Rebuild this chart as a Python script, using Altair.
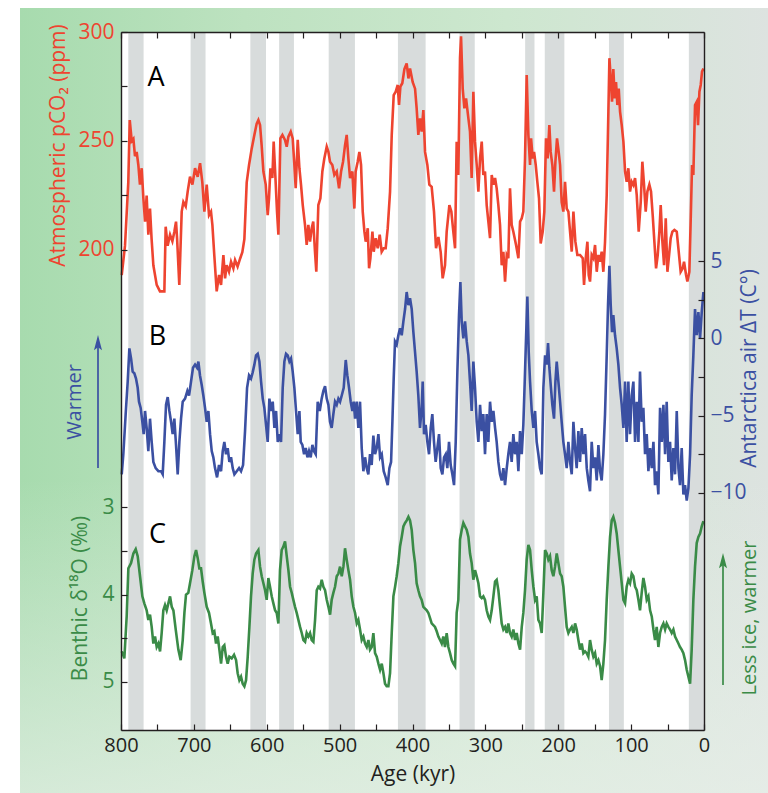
import altair as alt
import pandas as pd

# Plot area size in pixels (axes and labels live in the padding)
W, H = 583, 698

FONT = "Open Sans"
RED = "#ee4430"
BLUE = "#3b50a2"
GREEN = "#3a8b47"
FRAME = "#231f20"
BAND = "#d8dcdc"

# ---------------------------------------------------------------- data
AGE_LABELS = [800, 700, 600, 500, 400, 300, 200, 100, 0]
AGE_TICKS = list(range(0, 801, 50))

# interglacial intervals (kyr before present): (older edge, younger edge)
INTERGLACIALS = [
    (790, 769), (704.5, 684), (622.5, 601), (583, 562.7), (515, 479),
    (420, 382), (335.5, 314.6), (245.4, 232.6), (218.5, 191.6),
    (130.4, 110), (20.8, 0),
]

# (age kyr, atmospheric CO2 ppm)
CO2 = [
    (799, 188.5), (794.5, 202), (790, 231), (788, 259.6), (785.3, 250), (783, 251),
    (780.8, 243), (778.5, 245), (776.2, 239), (774, 230), (771.6, 237.5), (769.3, 223.7),
    (767, 213), (764.8, 225), (762.5, 207), (760.2, 219), (758, 205), (755.6, 193),
    (751, 184), (746.5, 181), (740.5, 181), (738.7, 210.7), (736, 202), (732.7, 207),
    (729.5, 204), (726.8, 208.4), (724.5, 213), (723, 205), (720, 184), (716.7, 217.6),
    (714.4, 222), (711.2, 220), (708.5, 226.8), (705.3, 233.6), (702, 230), (698.4, 237.5),
    (694.8, 233.6), (691.5, 239.8), (688.4, 231), (685.6, 217.6), (682.4, 230), (679.2, 216),
    (676.5, 217.6), (674.6, 211.5), (672, 197.7), (668.7, 181), (665.5, 188.5), (662.7, 184),
    (659.5, 197.7), (657.2, 187), (655, 193), (651.8, 190), (649, 194.6), (645.8, 191.6),
    (643.5, 195.4), (640, 192.4), (636.6, 196), (633.5, 199), (630.7, 205), (627.5, 231),
    (624.3, 239), (620.6, 246.6), (617, 252.8), (613.8, 258), (611.5, 259.6), (609.2, 257.3),
    (607, 248), (604.6, 236), (601.4, 230), (598.7, 216), (596.9, 223.7), (595, 237.5),
    (592.3, 233), (590.5, 249.7), (588.2, 234), (585.9, 217.6), (584, 207), (581.3, 251.2),
    (578.5, 252.8), (575, 250.5), (572.6, 247.4), (570.3, 252), (567.1, 254.3), (564.4, 251.2),
    (562.1, 239), (560.3, 228.3), (557.5, 250.5), (555.2, 237.5), (553, 230), (550.6, 220.6),
    (547.5, 211.5), (545.2, 202.3), (542.9, 211.5), (540.6, 203.8), (538.3, 210), (536.2, 213),
    (533.8, 199.2), (532, 190), (529.2, 220.6), (526.4, 223.7), (523.7, 236), (521, 242),
    (517.7, 247.4), (515.4, 245), (513.2, 240.5), (510, 239), (507.2, 234.4), (504, 236),
    (500.8, 228.3), (498, 236), (495.3, 240.5), (492.6, 248), (490.3, 252.8), (488, 242),
    (485.7, 233), (482.5, 236), (479.8, 219), (478, 236), (475.2, 240.5), (472.9, 245),
    (470.6, 239), (468.3, 217.6), (466, 208.4), (464.2, 203.8), (461.4, 210), (459.6, 191.6),
    (457.8, 196.2), (455, 208.4), (453.2, 199.2), (450.5, 205.4), (447.7, 200.8), (445, 207),
    (442.3, 199.2), (439.5, 200.8), (436.8, 200.8), (434, 210), (430.8, 226.8), (428.5, 252.8),
    (425.8, 271), (423, 272.6), (420.3, 275.7), (418.5, 266.5), (416.6, 275), (414, 276.5),
    (411.1, 283), (408, 285.6), (405.6, 278.7),
    (403.4, 283.3), (399.7, 277), (396.5, 274), (394.3, 265), (392, 252.8), (389.7, 260.4),
    (387.4, 254.3), (385.1, 264.2), (382.8, 245), (379.6, 239), (376.9, 230), (373.7, 229),
    (370.5, 217.6), (367.7, 200.8), (364.5, 206), (361.3, 199), (358.6, 187), (355.4, 193),
    (353.1, 208.4), (349.4, 220.6), (346.7, 217.6), (344, 208.4), (341.6, 200.8), (339.4, 249.7),
    (337.1, 234.4), (334.8, 288), (333.4, 298), (331.1, 274), (328.8, 265), (326.5, 269.5),
    (323.3, 260.4), (321.1, 254.3), (318.8, 233), (316.5, 272.6), (314.2, 249.7), (311.9, 239),
    (309.6, 226.8), (307.3, 242), (305, 249.7), (302.8, 234.4), (300.5, 236), (298.2, 220.6),
    (295.9, 213), (293.6, 205.4), (291.3, 234.4), (289, 230), (286.7, 233), (284.5, 228.3),
    (282.2, 220.6), (279.9, 211.5), (277.6, 193), (275.3, 199.2), (273, 185.5), (270.7, 197.7),
    (268.5, 196.2), (266.2, 228.3), (263.9, 211.5), (261.6, 208.4), (257.9, 202.3), (254.7, 196.2),
    (252.4, 213), (250.1, 214.5), (247.9, 217.6), (245.6, 242), (243.3, 280.3), (241, 252.8),
    (238.7, 239), (237.3, 251.2), (235.1, 242), (233.2, 245), (230.9, 239), (228.7, 231.3),
    (226.4, 223.7), (224.1, 203), (221.3, 208.4), (219.1, 217.6), (216.8, 251.2), (214.5, 242),
    (212.2, 257.3), (210.4, 245), (208.1, 239), (205.8, 226.8), (203.9, 240.5), (201.7, 251.2),
    (199.4, 245), (197.5, 239), (195.3, 222), (193, 217.6), (190.7, 231.3), (188.4, 219),
    (186.1, 217.6), (183.8, 208.4), (181.5, 199.2), (179.2, 217.6), (176.5, 203.8), (173.8, 197.7),
    (170.1, 197.7), (166.4, 196.2), (164.6, 184), (162.3, 196.2), (160, 203.8), (158.2, 188.5),
    (156.4, 185.5), (154.1, 197.7), (151.8, 196.2), (149.5, 202.3), (147.2, 190), (144.9, 197.7),
    (142.6, 194.6), (140.4, 199.2), (138.1, 190), (135.8, 203.8), (133.5, 225.2), (131.2, 263.5),
    (129.8, 288), (128, 278.7), (126.2, 268), (124.4, 283), (122.5, 269.5), (120.7, 277),
    (118.9, 266.5), (117, 274), (115.2, 263.5), (112.9, 257.3), (110.6, 249.7), (108.3, 236),
    (106.1, 231.3), (103.8, 237.5), (101.5, 226.8), (99.2, 231.3), (96.9, 229.8), (94.6, 233),
    (92.3, 225.2), (89.6, 208.4), (86.8, 222), (84.6, 240.5), (82.3, 230), (80, 217.6),
    (77.7, 226.8), (75, 230), (72.7, 226.8), (70.4, 216), (68.1, 203.8), (65.8, 191.6),
    (63.5, 197.7), (61.2, 208.4), (59.4, 220.6), (57.1, 203.8), (54.8, 193), (52.5, 214.5),
    (50.2, 190), (47.9, 197.7), (45.7, 205.4), (43.4, 208.4), (40.6, 209.2), (37.4, 208.4),
    (34.7, 199.2), (32, 190), (29.2, 191.6), (27.4, 194.6), (24.6, 188.5), (22.8, 185.5),
    (20.1, 190), (18.2, 214.5), (16.4, 239), (14.6, 234.4), (12.3, 266.5), (10, 268),
    (8.2, 257.3), (6.3, 272.6), (4.5, 275.7), (2.7, 281.8), (0.8, 283.3),
]

# (age kyr, Antarctic air temperature anomaly degC)
TEMP = [
    (799, -8.8), (796.8, -7.5), (793.6, -4.9), (790.8, -2.8), (788.5, -0.65), (786.2, -1.3),
    (784, -2.15), (781.7, -2.26), (779.4, -2.6), (777.1, -3.2), (775.3, -4.1), (773, -4.5),
    (770.7, -5.4), (768.9, -6.2), (767, -4.7), (764.8, -5.8), (762.5, -7.3), (760.2, -5.2),
    (757.9, -6.7), (755.6, -8), (752.4, -8.4), (748.7, -8.6), (745.1, -8.6), (742.8, -8.8),
    (740.5, -6.7), (738.2, -4.3), (735.9, -3.8), (733.6, -4.7), (731.3, -5.4), (729.1, -6.2),
    (726.8, -5.2), (724.5, -6.9), (722.2, -8.8), (719.9, -6.7), (717.6, -5.2), (715.3, -4.1),
    (712.1, -3.9), (708.9, -3.4), (706.6, -3.7), (703.9, -2.8), (701.2, -1.9), (698.4, -1.7),
    (695.7, -1.9), (693.8, -1.5), (691.6, -2.4), (689.3, -3.0), (687, -3.7), (684.7, -4.5),
    (682.4, -5.4), (680.1, -4.7), (677.8, -6.2), (675.5, -7.3), (673.3, -7.7), (671, -8.4),
    (668.2, -9.0), (665.5, -8.2), (662.7, -8.6), (660.4, -7.3), (658.2, -6.7), (655.9, -7.5),
    (653.6, -7.1), (651.3, -8.0), (649, -7.7), (646.7, -8.4), (644.4, -8.8), (641.2, -8.6),
    (638, -8.4), (635.3, -8.6), (632.5, -8.2), (629.8, -6.0), (627, -3.2), (624.3, -2.4),
    (621.6, -2.6), (619.3, -2.2), (617, -1.7), (614.7, -1.1), (612.4, -1.0), (610.1, -1.5),
    (607.8, -2.8), (605.5, -3.9), (603.3, -4.5), (601, -5.6), (598.7, -6.7), (596.4, -3.9),
    (594.1, -4.7), (591.8, -4.1), (589.5, -5.8), (587.2, -4.7), (584.9, -6.7), (582.7, -6.2),
    (580.4, -6.7), (578.1, -3.2), (575.8, -1.5), (573.5, -1.0), (571.2, -1.1), (568.9, -1.5),
    (566.7, -1.3), (564.4, -2.15), (562.1, -3.2), (559.8, -4.7), (557.5, -6.2), (555.2, -4.7),
    (553.4, -6.7), (551.1, -6.9), (548.8, -7.5), (546.5, -7.1), (544.2, -7.7), (542, -7.3),
    (539.7, -7.7), (537.4, -6.9), (535.1, -7.3), (532.8, -7.5), (530.1, -4.1), (527.3, -4.7),
    (524.6, -3.9), (522.3, -3.4), (520, -3.1), (517.7, -3.9), (515.4, -4.3), (513.2, -5.4),
    (510.9, -5.8), (508.6, -4.9), (506.3, -4.1), (504, -4.3), (501.7, -3.9), (499.4, -4.1),
    (497.1, -3.7), (494.4, -3.2), (491.6, -1.4), (489.4, -2.4), (487.1, -3.2), (484.8, -4.1),
    (482.5, -4.7), (480.7, -4.1), (478.8, -5.2), (476.6, -4.1), (474.3, -5.8), (472, -4.1),
    (469.7, -7.1), (467.4, -8.6), (465.1, -7.7), (462.8, -8.4), (460.6, -8.8), (458.3, -7.5),
    (456, -8.2), (453.7, -6.3), (451.4, -7.5), (449.1, -7.1), (446.8, -6.2), (444.5, -7.7),
    (442.2, -7.5), (439.5, -8.6), (436.8, -9.0), (434, -9.5), (431.7, -8.4), (429.4, -8.0),
    (427.6, -5.4), (425.8, -2.6), (424, -0.2), (421.7, -0.4), (419.4, 0.2), (417.1, 0.65),
    (414.8, 0.2), (412.5, 1.1), (410.2, 1.9), (408, 3.0), (405.6, 2.15),
    (403.4, 2.6), (401.1, 1.9), (398.8, 0.4), (396.5, -0.9), (394.3, -2.15), (392, -3.7),
    (389.7, -5.8), (387.4, -4.5), (386, -2.8), (384.2, -6.2), (381.9, -5.6), (379.6, -6.7),
    (377.3, -7.5), (375, -5.8), (372.8, -4.9), (370.5, -6.7), (368.2, -8.0), (365.9, -7.1),
    (363.6, -6.2), (361.3, -8.4), (359, -8.8), (356.7, -7.7), (354.4, -7.5), (352.2, -8.4),
    (349.9, -6.7), (347.6, -8.2), (345.3, -8.8), (343, -9.5), (340.7, -6.7), (338.4, -2.15),
    (336.2, 1.5), (334.3, 3.65), (332.5, 1.1), (330.2, 0.0), (327.9, 1.1), (325.6, -0.2),
    (323.3, -1.1), (321.1, -2.8), (318.8, -4.7), (316.5, -1.5), (314.2, -3.2), (311.9, -5.4),
    (309.6, -6.7), (307.3, -4.3), (305, -6.0), (302.8, -4.9), (300.5, -7.5), (298.2, -4.9),
    (295.9, -6.7), (293.6, -4.1), (291.3, -5.4), (289, -4.7), (286.7, -5.8), (284.5, -6.7),
    (282.2, -8.0), (279.9, -8.8), (277.6, -9.2), (275.3, -8.4), (273, -9.5), (270.7, -8.4),
    (268.5, -7.5), (266.2, -6.7), (263.9, -8.0), (261.6, -6.2), (259.3, -7.5), (257, -6.7),
    (254.7, -8.6), (252.4, -6.0), (250.1, -7.5), (247.9, -5.6), (246, -2.8), (244.2, 0.0),
    (242.4, 2.7), (240.5, -0.9), (238.7, -2.8), (236.4, -4.7), (234.1, -5.8), (231.8, -4.7),
    (229.6, -6.7), (227.3, -7.5), (225, -8.4), (222.7, -8.8), (220.4, -3.2), (218.1, -1.1),
    (215.8, -1.7), (214, -0.3), (212.2, -1.9), (210.4, -3.0), (208.1, -4.3), (205.8, -5.2),
    (203.9, -2.8), (202.1, -1.5), (199.8, -2.8), (197.5, -4.1), (195.3, -5.4), (193, -6.7),
    (190.7, -7.5), (188.4, -8.4), (186.1, -6.7), (183.8, -8.0), (181.5, -8.8), (179.2, -5.4),
    (176.9, -7.1), (174.7, -8.4), (172.4, -6.0), (170.1, -8.0), (167.8, -5.8), (165.5, -7.5),
    (163.2, -6.2), (160.9, -8.4), (158.7, -9.2), (156.4, -9.9), (154.1, -6.7), (151.8, -8.4),
    (149.5, -7.7), (147.2, -9.2), (144.9, -6.9), (142.6, -8.6), (140.4, -9.2), (138.1, -7.5),
    (135.8, -4.9), (133.5, -1.1), (131.7, 2.15), (129.8, 4.7), (128, 2.15), (126.2, 0.4),
    (124.4, 1.5), (122.1, 0.2), (119.8, -0.65), (117.5, -1.7), (115.2, -3.2), (112.9, -4.3),
    (110.6, -5.8), (108.3, -2.8), (106.1, -6.7), (103.8, -2.8), (101.5, -6.2), (99.2, -3.7),
    (96.9, -2.8), (94.6, -6.7), (92.3, -4.1), (90, -6.7), (87.8, -2.15), (85.5, -5.4),
    (83.2, -4.5), (80.9, -7.5), (78.6, -6.2), (76.3, -8.6), (74, -7.1), (71.7, -8.4),
    (69.4, -6.7), (67.2, -9.5), (64.9, -8.6), (62.6, -10.1), (60.3, -4.5), (58, -6.7),
    (55.7, -4.3), (53.4, -7.5), (51.2, -4.1), (48.9, -8.0), (46.6, -6.7), (44.3, -9.2),
    (42, -7.1), (39.7, -8.8), (37.4, -4.7), (35.1, -8.4), (32.9, -9.5), (30.6, -7.1),
    (28.3, -10.1), (26, -9.5), (23.7, -10.5), (21.4, -9.7), (19.1, -7.5), (16.9, -3.7),
    (14.6, -1.1), (12.3, 1.9), (10, 0.2), (7.7, 1.7), (5.4, 0.0), (3.1, 1.7), (0.8, 3.0),
]

# (age kyr, benthic d18O permil)
D18O = [
    (799, 4.65), (795.4, 4.73), (792.2, 4.25), (789.9, 3.70), (786.2, 3.64), (783, 3.53),
    (779.8, 3.48), (777.1, 3.56), (773.9, 3.79), (770.7, 4.02), (768, 4.10), (764.8, 4.18),
    (762.5, 4.29), (760.2, 4.23), (757.9, 4.37), (755.6, 4.56), (753.3, 4.48), (751, 4.60),
    (748.7, 4.56), (746.4, 4.65), (744.2, 4.44), (741.9, 4.18), (739.6, 4.12), (737.3, 4.18),
    (735, 4.10), (732.7, 4.02), (730.4, 4.14), (728.1, 4.18), (724.9, 4.40), (721.3, 4.63),
    (718.1, 4.75), (715.3, 4.52), (713, 4.21), (710.8, 4.00), (707.6, 3.98), (705.3, 3.87),
    (702.1, 3.72), (699.3, 3.56), (697, 3.49), (694.8, 3.58), (692.5, 3.70), (690.2, 3.70),
    (687.9, 3.85), (685.6, 3.98), (682.4, 4.14), (679.2, 4.21), (676.5, 4.33), (674.2, 4.44),
    (671.9, 4.42), (669.6, 4.56), (667.3, 4.48), (665, 4.63), (662.7, 4.79), (660.4, 4.60),
    (658.2, 4.58), (655.9, 4.71), (653.6, 4.79), (651.3, 4.71), (648.1, 4.73), (644.9, 4.69),
    (642.1, 4.75), (639.9, 4.90), (637.6, 4.98), (635.3, 4.94), (633, 5.02), (630.7, 5.05),
    (628.4, 4.98), (626.1, 4.71), (623.8, 4.37), (621.6, 4.02), (619.3, 3.76), (617, 3.60),
    (614.7, 3.53), (611.5, 3.49), (609.2, 3.68), (606.9, 3.79), (604.6, 3.87), (602.3, 3.95),
    (600.1, 4.06), (597.8, 3.81), (595.5, 3.91), (593.2, 4.02), (590.9, 4.10), (588.6, 4.18),
    (586.3, 4.21), (584, 4.33), (581.8, 3.72), (579.5, 3.49), (577.2, 3.45), (574.9, 3.39),
    (572.6, 3.56), (570.3, 3.72), (568, 3.91), (565.7, 3.98), (563.5, 4.06), (561.2, 4.14),
    (558.9, 4.21), (556.6, 4.29), (554.3, 4.37), (552, 4.44), (549.7, 4.52), (547.4, 4.54),
    (545.2, 4.44), (542.9, 4.48), (540.6, 4.44), (538.3, 4.52), (536, 4.54), (533.7, 4.29),
    (531.4, 3.95), (529.2, 3.91), (526.9, 3.93), (524.6, 3.83), (522.3, 3.91), (520, 3.95),
    (517.7, 4.06), (515.4, 4.14), (513.1, 4.23), (510.9, 4.06), (508.6, 3.98), (506.3, 3.91),
    (504, 3.79), (501.7, 3.76), (499.4, 3.68), (497.1, 3.79), (494.8, 3.68), (492.6, 3.47),
    (490.3, 3.60), (488, 3.72), (485.7, 3.83), (483.4, 4.02), (481.1, 4.14), (478.8, 4.21),
    (476.5, 4.33), (474.3, 4.29), (472, 4.40), (469.7, 4.52), (467.4, 4.48), (465.1, 4.56),
    (462.8, 4.60), (460.5, 4.52), (458.3, 4.63), (456, 4.60), (453.7, 4.44), (451.4, 4.67),
    (449.1, 4.71), (446.8, 4.79), (444.5, 4.86), (442.2, 4.79), (439.9, 4.90), (437.7, 5.02),
    (435.4, 5.05), (433.1, 5.05), (430.8, 4.90), (428.5, 4.44), (426.2, 4.02), (423.9, 3.91),
    (421.7, 3.79), (419.4, 3.64), (417.1, 3.45), (414.8, 3.34), (412.5, 3.22), (410.2, 3.18),
    (407.9, 3.15), (405.6, 3.11),
    (403.4, 3.15), (401.1, 3.26), (398.8, 3.49), (396.5, 3.64), (394.3, 3.87), (392, 3.95),
    (389.7, 4.02), (387.4, 4.06), (385.1, 4.14), (382.8, 4.16), (380.5, 4.18), (378.2, 4.21),
    (375.9, 4.27), (373.7, 4.33), (371.4, 4.35), (369.1, 4.37), (366.8, 4.42), (364.5, 4.48),
    (362.2, 4.52), (359.9, 4.56), (357.7, 4.48), (355.4, 4.60), (353.1, 4.44), (350.8, 4.60),
    (348.5, 4.67), (346.2, 4.75), (343.9, 4.79), (341.6, 4.82), (339.4, 4.21), (337.1, 4.06),
    (334.8, 3.37), (332.5, 3.26), (330.2, 3.18), (327.9, 3.22), (325.6, 3.26), (323.3, 3.34),
    (321.1, 3.53), (318.8, 3.64), (316.5, 3.83), (314.2, 3.72), (311.9, 3.79), (309.6, 3.87),
    (307.3, 4.02), (305, 4.04), (302.8, 4.02), (300.5, 4.06), (298.2, 4.18), (295.9, 4.25),
    (293.6, 4.29), (291.3, 4.18), (289, 4.02), (286.7, 3.85), (284.5, 3.83), (282.2, 3.95),
    (279.9, 4.14), (277.6, 4.33), (275.3, 4.40), (273, 4.37), (270.7, 4.44), (268.5, 4.33),
    (266.2, 4.44), (263.9, 4.48), (261.6, 4.40), (259.3, 4.52), (257, 4.44), (254.7, 4.56),
    (252.4, 4.63), (250.1, 4.37), (247.9, 4.21), (245.6, 3.95), (243.3, 3.60), (241, 3.43),
    (238.7, 3.49), (236.4, 3.72), (234.1, 3.91), (231.8, 4.06), (229.6, 4.02), (227.3, 4.29),
    (225, 4.33), (222.7, 4.44), (220.4, 3.98), (218.1, 3.49), (215.8, 3.53), (213.6, 3.60),
    (211.3, 3.56), (209, 3.72), (206.7, 3.79), (204.4, 3.68), (202.1, 3.53), (199.8, 3.64),
    (197.5, 3.76), (195.3, 3.79), (193, 3.91), (190.7, 4.14), (188.4, 4.37), (186.1, 4.44),
    (183.8, 4.40), (181.5, 4.37), (179.2, 4.44), (176.9, 4.33), (174.7, 4.40), (172.4, 4.52),
    (170.1, 4.63), (167.8, 4.56), (165.5, 4.67), (163.2, 4.65), (160.9, 4.67), (158.7, 4.71),
    (156.4, 4.52), (154.1, 4.63), (151.8, 4.71), (149.5, 4.67), (147.2, 4.79), (144.9, 4.75),
    (142.6, 4.82), (140.4, 4.98), (138.1, 4.79), (135.8, 4.52), (133.5, 4.06), (131.2, 3.68),
    (128.9, 3.34), (126.6, 3.15), (124.4, 3.11), (122.1, 3.18), (119.8, 3.30), (117.5, 3.49),
    (115.2, 3.68), (112.9, 3.87), (110.6, 4.06), (108.3, 4.10), (106.1, 3.91), (103.8, 3.83),
    (101.5, 3.87), (99.2, 3.76), (96.9, 3.79), (94.6, 3.91), (92.3, 3.95), (90, 4.06),
    (87.8, 4.18), (85.5, 3.98), (83.2, 3.81), (80.9, 3.91), (78.6, 4.06), (76.3, 4.02),
    (74, 4.18), (71.7, 4.25), (69.4, 4.40), (67.2, 4.52), (64.9, 4.37), (62.6, 4.60),
    (60.3, 4.44), (58, 4.37), (55.7, 4.33), (53.4, 4.40), (51.2, 4.33), (48.9, 4.37),
    (46.6, 4.40), (44.3, 4.44), (42, 4.40), (39.7, 4.48), (37.4, 4.52), (35.1, 4.56),
    (32.9, 4.60), (30.6, 4.63), (28.3, 4.67), (26, 4.75), (23.7, 4.86), (21.4, 4.94),
    (19.1, 5.02), (16.9, 4.63), (14.6, 4.06), (12.3, 3.68), (10, 3.41), (7.7, 3.34),
    (5.4, 3.30), (3.1, 3.22), (0.8, 3.16),
]

CO2_LABELS = [200, 250, 300]
CO2_TICKS = [200, 225, 250, 275, 300]
TEMP_LABELS = [5, 0, -5, -10]
TEMP_TICKS = [5, 2.5, 0, -2.5, -5, -7.5, -10]
D18O_LABELS = [3, 4, 5]
D18O_TICKS = [3, 3.5, 4, 4.5, 5]

# value ranges spanning the full plot height for each stacked record
CO2_DOMAIN = [-20.2, 300]
TEMP_DOMAIN = [-25.35, 19.83]
D18O_DOMAIN = [-2.44, 5.55]

# panel letters: (letter, age, value on that panel's scale)
PANEL_A = ("A", 752, 279)
PANEL_B = ("B", 750, 0.1)
PANEL_C = ("C", 750, 3.32)

# ---------------------------------------------------------------- frames
co2_df = pd.DataFrame(CO2, columns=["age", "v"])
temp_df = pd.DataFrame(TEMP, columns=["age", "v"])
d18o_df = pd.DataFrame(D18O, columns=["age", "v"])
bands_df = pd.DataFrame(INTERGLACIALS, columns=["start", "end"])
one = pd.DataFrame({"k": [0]})

x_scale = alt.Scale(domain=[0, 800], reverse=True, nice=False, zero=False)
co2_scale = alt.Scale(domain=CO2_DOMAIN, nice=False, zero=False)
temp_scale = alt.Scale(domain=TEMP_DOMAIN, nice=False, zero=False)
d18o_scale = alt.Scale(domain=D18O_DOMAIN, reverse=True, nice=False, zero=False)

LINE_W = 2.6


def tick_axis(orient, offset, values, domain=False):
    """Unlabelled axis used only for the inward-pointing tick marks."""
    return alt.Axis(orient=orient, offset=offset, values=values, labels=False,
                    tickSize=6, tickWidth=1.2, tickColor=FRAME, domain=domain,
                    domainColor=FRAME, domainWidth=1.4, grid=False, title=None,
                    zindex=2)


def label_axis(orient, values, color, title, title_x, title_y, label_pad, domain):
    return alt.Axis(orient=orient, values=values, tickSize=0, labelPadding=label_pad,
                    labelFontSize=21, labelColor=color, labelFlush=False,
                    title=title, titleColor=color, titleFontSize=21,
                    titleFontWeight="normal", titleX=title_x, titleY=title_y,
                    titleAngle=270, titleBaseline="middle", titleAlign="center",
                    domain=domain, domainColor=FRAME, domainWidth=1.4,
                    grid=False, zindex=2)


# soft green backdrop behind the whole figure
backdrop = alt.Chart(one).mark_rect(
    color=alt.Gradient(
        gradient="linear",
        stops=[alt.GradientStop(color="#a7dbae", offset=0),
               alt.GradientStop(color="#bde2c0", offset=0.3),
               alt.GradientStop(color="#cde7cf", offset=0.65),
               alt.GradientStop(color="#dde3e0", offset=1)],
        x1=0, x2=1, y1=0, y2=0)
).encode(x=alt.value(-101), x2=alt.value(W + 64),
         y=alt.value(-24), y2=alt.value(H + 63))

fade = alt.Chart(one).mark_rect(
    color=alt.Gradient(
        gradient="linear",
        stops=[alt.GradientStop(color="rgba(232,240,233,0)", offset=0),
               alt.GradientStop(color="rgba(232,240,233,0)", offset=0.6),
               alt.GradientStop(color="rgba(232,240,233,0.7)", offset=1)],
        x1=0, x2=0, y1=0, y2=1)
).encode(x=alt.value(-101), x2=alt.value(W + 64),
         y=alt.value(-24), y2=alt.value(H + 63))

plot_bg = alt.Chart(one).mark_rect(color="white").encode(
    x=alt.value(0), x2=alt.value(W), y=alt.value(0), y2=alt.value(H))

bands = alt.Chart(bands_df).mark_rect(color=BAND).encode(
    x=alt.X("start:Q", scale=x_scale, axis=alt.Axis(
        orient="bottom", values=AGE_LABELS, tickSize=0, labelPadding=5,
        labelFontSize=20, labelColor=FRAME, labelFlush=False, format="d",
        title="Age (kyr)", titleFontSize=21, titleFontWeight="normal",
        titleColor=FRAME, titlePadding=8, domain=True, domainColor=FRAME,
        domainWidth=1.4, grid=False, zindex=2)),
    x2="end:Q",
)

co2_line = alt.Chart(co2_df).mark_line(color=RED, strokeWidth=LINE_W).encode(
    x=alt.X("age:Q", scale=x_scale, axis=tick_axis("top", -H, AGE_TICKS)),
    y=alt.Y("v:Q", scale=co2_scale, axis=label_axis(
        "left", CO2_LABELS, RED, "Atmospheric pCO₂ (ppm)", -63, 113, 7, True)),
)
co2_ticks = alt.Chart(co2_df).mark_line(strokeOpacity=0).encode(
    x=alt.X("age:Q", scale=x_scale, axis=tick_axis("bottom", -H, AGE_TICKS, domain=True)),
    y=alt.Y("v:Q", scale=co2_scale, axis=tick_axis("right", -W, CO2_TICKS)),
)

temp_line = alt.Chart(temp_df).mark_line(color=BLUE, strokeWidth=LINE_W).encode(
    x=alt.X("age:Q", scale=x_scale, axis=None),
    y=alt.Y("v:Q", scale=temp_scale, axis=label_axis(
        "right", TEMP_LABELS, BLUE, "Antarctica air ΔT (C°)", 45, 336, 6, True)),
)
temp_ticks = alt.Chart(temp_df).mark_line(strokeOpacity=0).encode(
    x=alt.X("age:Q", scale=x_scale, axis=None),
    y=alt.Y("v:Q", scale=temp_scale, axis=tick_axis("left", -W, TEMP_TICKS)),
)

d18o_line = alt.Chart(d18o_df).mark_line(color=GREEN, strokeWidth=LINE_W).encode(
    x=alt.X("age:Q", scale=x_scale, axis=None),
    y=alt.Y("v:Q", scale=d18o_scale, axis=label_axis(
        "left", D18O_LABELS, GREEN, "Benthic δ¹⁸O (‰)", -41, 566, 7, False)),
)
d18o_ticks = alt.Chart(d18o_df).mark_line(strokeOpacity=0).encode(
    x=alt.X("age:Q", scale=x_scale, axis=None),
    y=alt.Y("v:Q", scale=d18o_scale, axis=tick_axis("right", -W, D18O_TICKS)),
)


def panel_letter(spec, scale):
    df = pd.DataFrame([spec], columns=["label", "age", "v"])
    return alt.Chart(df).mark_text(fontSize=27, color="black", font=FONT,
                                   align="center", baseline="middle").encode(
        x=alt.X("age:Q", scale=x_scale, axis=None),
        y=alt.Y("v:Q", scale=scale, axis=None),
        text="label:N",
    )


letter_a = panel_letter(PANEL_A, co2_scale)
letter_b = panel_letter(PANEL_B, temp_scale)
letter_c = panel_letter(PANEL_C, d18o_scale)

# direction hints beside the temperature and d18O records
ARROW_HEAD = "M0,-1L0.45,0.7L0,0.35L-0.45,0.7Z"

warmer_text = alt.Chart(one).mark_text(
    angle=270, fontSize=20, color=BLUE, font=FONT, align="center", baseline="middle"
).encode(x=alt.value(-46), y=alt.value(370), text=alt.value("Warmer"))
warmer_shaft = alt.Chart(one).mark_rule(color=BLUE, strokeWidth=1.7).encode(
    x=alt.value(-23), y=alt.value(436), y2=alt.value(314))
warmer_head = alt.Chart(one).mark_point(
    shape=ARROW_HEAD, filled=True, size=320, color=BLUE, opacity=1
).encode(x=alt.value(-23), y=alt.value(312))

less_ice_text = alt.Chart(one).mark_text(
    angle=270, fontSize=20, color=GREEN, font=FONT, align="center", baseline="middle"
).encode(x=alt.value(W + 46), y=alt.value(586), text=alt.value("Less ice, warmer"))
less_ice_shaft = alt.Chart(one).mark_rule(color=GREEN, strokeWidth=1.7).encode(
    x=alt.value(W + 19), y=alt.value(653), y2=alt.value(532))
less_ice_head = alt.Chart(one).mark_point(
    shape=ARROW_HEAD, filled=True, size=320, color=GREEN, opacity=1
).encode(x=alt.value(W + 19), y=alt.value(530))

chart = alt.layer(
    backdrop, fade, plot_bg, bands,
    co2_line, co2_ticks, temp_line, temp_ticks, d18o_line, d18o_ticks,
    letter_a, letter_b, letter_c,
    warmer_text, warmer_shaft, warmer_head,
    less_ice_text, less_ice_shaft, less_ice_head,
).resolve_scale(
    y="independent"
).resolve_axis(
    x="independent", y="independent"
).properties(
    width=W, height=H,
    autosize=alt.AutoSizeParams(type="none"),
    padding={"left": 121, "top": 32, "right": 64, "bottom": 63},
    background="white",
).configure_view(
    strokeWidth=0
).configure_axis(
    labelFont=FONT, titleFont=FONT
).configure_text(
    font=FONT
)

chart.save("out.html", embed_options={"renderer": "svg", "actions": False})
